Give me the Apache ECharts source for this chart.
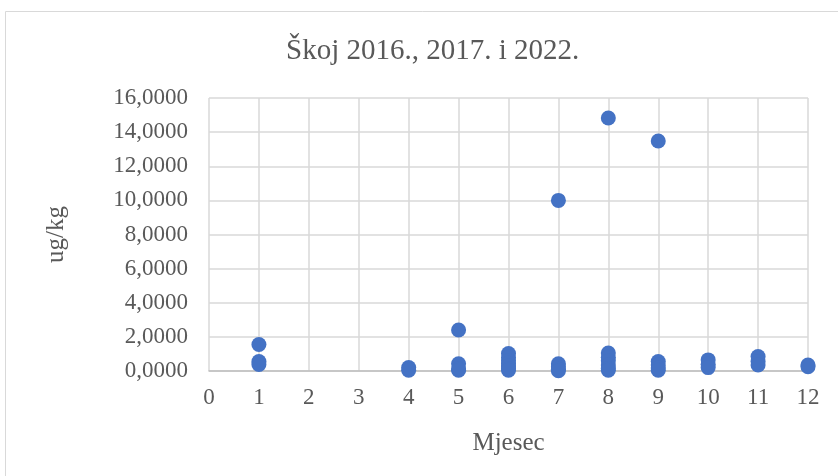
<!DOCTYPE html>
<html><head><meta charset="utf-8">
<script src="https://cdn.jsdelivr.net/npm/echarts@6/dist/echarts.min.js"></script>
<style>html,body{margin:0;padding:0;background:#fff}#c{width:838px;height:476px}</style>
</head><body><div id="c"></div>
<script>
const titleText = 'Škoj 2016., 2017. i 2022.';
const xName = 'Mjesec';
const yName = 'ug/kg';
const months = [1,1,1, 4,4, 5,5,5,5, 6,6,6,6,6,6,6, 7,7,7,7,7, 8,8,8,8,8,8,8, 9,9,9,9,9, 10,10,10, 11,11,11, 12,12];
const values = [1.55,0.55,0.38, 0.2,0.05, 2.4,0.42,0.12,0.05, 1.02,0.8,0.6,0.45,0.3,0.15,0.05, 10.0,0.42,0.25,0.1,0.02, 14.83,1.05,0.8,0.6,0.35,0.15,0.05, 13.48,0.55,0.35,0.18,0.05, 0.65,0.4,0.2, 0.85,0.55,0.35, 0.35,0.25];
const points = months.map((m,i)=>[m, values[i]]);
const chart = echarts.init(document.getElementById('c'));
const serif = '"Liberation Serif","Times New Roman",serif';
chart.setOption({
  animation:false,
  graphic:[{type:'rect',shape:{x:5.5,y:11.5,width:900,height:600},style:{fill:'none',stroke:'#d9d9d9',lineWidth:1}}],
  title:{text:titleText,left:281,top:32,textStyle:{fontFamily:serif,fontSize:29,fontWeight:'normal',color:'#595959'}},
  grid:{left:209,right:30,top:98,bottom:105},
  xAxis:{type:'value',min:0,max:12,interval:1,name:xName,nameLocation:'middle',nameGap:60,
    nameTextStyle:{fontFamily:serif,fontSize:25,color:'#595959'},
    axisLine:{show:true,lineStyle:{color:'#bfbfbf',width:1.5}},axisTick:{show:false},
    axisLabel:{fontFamily:serif,fontSize:23,color:'#595959',margin:15},
    splitLine:{show:true,lineStyle:{color:'#d9d9d9',width:1.5}}},
  yAxis:{type:'value',min:0,max:16,interval:2,name:yName,nameLocation:'middle',nameGap:140,
    nameTextStyle:{fontFamily:serif,fontSize:25,color:'#595959'},
    axisLine:{show:false},axisTick:{show:false},
    axisLabel:{fontFamily:serif,fontSize:23,color:'#595959',margin:21,formatter:v=>v.toFixed(4).replace('.',',')},
    splitLine:{show:true,lineStyle:{color:'#d9d9d9',width:1.5}}},
  series:[{type:'scatter',data:points,symbolSize:15,itemStyle:{color:'#4472c4',opacity:1}}]
});
</script></body></html>
